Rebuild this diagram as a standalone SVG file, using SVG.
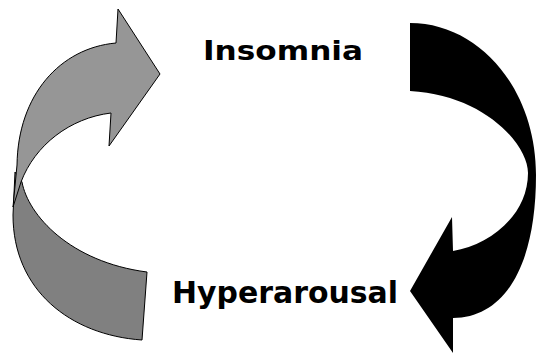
<svg xmlns="http://www.w3.org/2000/svg" width="536" height="354" viewBox="0 0 536 354">
<style>
.lbl{font-family:"DejaVu Sans","Verdana",sans-serif;font-weight:bold;fill:#000}
.g1{fill:#969696;stroke:#000;stroke-width:1}
.g2{fill:#808080;stroke:#000;stroke-width:1}
.blk{fill:#000;stroke:none}
</style>
<rect width="536" height="354" fill="#fff"/>
<g id="connectors">
<g id="gray-arrow">
<path class="g2" d="M22,182 C28,215 70,262 147,272 L142,340 C70,335 13,290 13,215 L15,172 Z"/>
<path class="g1" d="M116,43 L118,9 L160,74 L109,146 L111,113 C70,118 35,145 21,182 L13,207 L17,165 C18,95 60,48 116,43 Z"/>
</g>
<g id="black-arrow">
<path class="blk" d="M410,23 C480,23 536,90 536,175 C536,265 505,318 453,318 L453,353 L410,291 L452,217 L453,251 C490,245 528,215 528,173 C528,145 485,95 410,91 Z"/>
</g>
</g>
<g id="node-insomnia">
<text class="lbl" x="203" y="60" font-size="26" textLength="160" lengthAdjust="spacingAndGlyphs">Insomnia</text>
</g>
<g id="node-hyperarousal">
<text class="lbl" x="172" y="303" font-size="29.5" textLength="226" lengthAdjust="spacingAndGlyphs">Hyperarousal</text>
</g>
</svg>
